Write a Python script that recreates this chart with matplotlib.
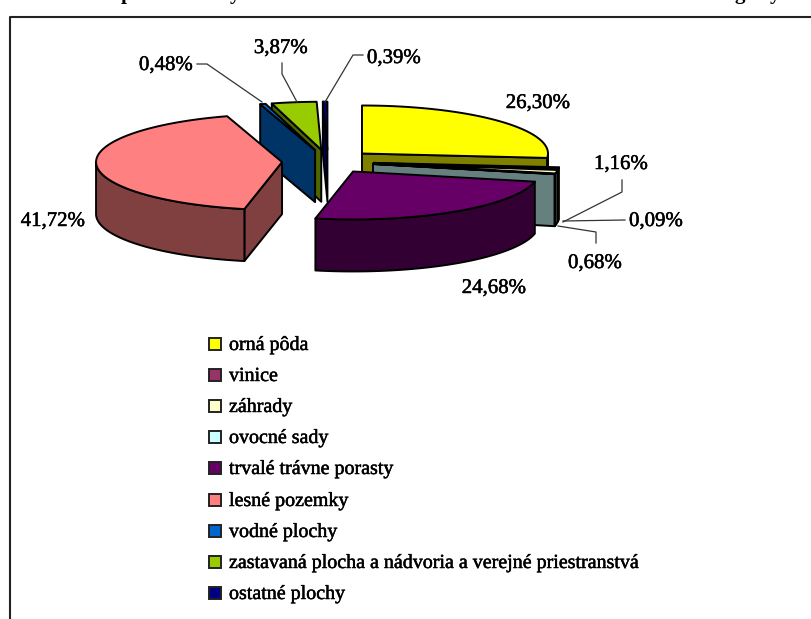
#!/usr/bin/env python3
import numpy as np
import matplotlib
matplotlib.use('Agg')
import matplotlib.pyplot as plt
import matplotlib.patheffects as pe
from matplotlib.patches import Polygon, Rectangle

categories = ['orná pôda', 'vinice', 'záhrady', 'ovocné sady', 'trvalé trávne porasty',
              'lesné pozemky', 'vodné plochy',
              'zastavaná plocha a nádvoria a verejné priestranstvá', 'ostatné plochy']
values = [26.30, 0.68, 1.16, 0.09, 24.68, 41.72, 0.48, 3.87, 0.39]
colors = ['#FFFF00', '#993366', '#FFFFCC', '#CCFFFF', '#660066',
          '#FF8080', '#0066CC', '#99CC00', '#000080']

# pie geometry, in pixels
cx, cy = 328, 161.5
rx, ry = 186, 48
depth = 52
explode = 46
edge_lw = 1.4

# the reference text is a bit heavier than plain Liberation Serif
heavy = [pe.withStroke(linewidth=0.35, foreground='black')]


def shade(color, k=0.5):
    rgb = matplotlib.colors.to_rgb(color)
    return tuple(c * k for c in rgb)


def point(ox, oy, t):
    return ox + rx * np.sin(t), oy - ry * np.cos(t)


plt.rcParams['font.family'] = ['Liberation Serif', 'DejaVu Serif']
fig = plt.figure(figsize=(8.11, 6.19), dpi=100)
ax = fig.add_axes([0, 0, 1, 1])
ax.set_xlim(0, 811)
ax.set_ylim(619, 0)
ax.axis('off')

# chart frame, cut by the page on the right and at the bottom
ax.plot([10, 10, 811], [619, 17, 17], color='#222222', lw=1.5)

angles = np.cumsum([0] + values) / sum(values) * 2 * np.pi
slices = []
for i in range(len(values)):
    t0, t1 = angles[i], angles[i + 1]
    mid = (t0 + t1) / 2
    ox = cx + explode * np.sin(mid)
    oy = cy - explode * ry / rx * np.cos(mid)
    slices.append((np.cos(mid), i, t0, t1, ox, oy))

# back to front
for _, i, t0, t1, ox, oy in sorted(slices, key=lambda s: -s[0]):
    top = colors[i]
    side = shade(top)
    ts = np.linspace(t0, t1, 80)
    ex, ey = point(ox, oy, ts)
    # straight cut faces
    for t, visible in ((t0, np.sin(t0) < 0), (t1, np.sin(t1) > 0)):
        if visible:
            px, py = point(ox, oy, t)
            ax.add_patch(Polygon([(ox, oy), (px, py), (px, py + depth), (ox, oy + depth)],
                                 fc=side, ec='black', lw=edge_lw, joinstyle='round'))
    # outer rim, only the part turned to the viewer
    lo, hi = max(t0, np.pi / 2), min(t1, 1.5 * np.pi)
    if hi > lo:
        rt = np.linspace(lo, hi, 80)
        rxs, rys = point(ox, oy, rt)
        pts = list(zip(rxs, rys)) + list(zip(rxs[::-1], rys[::-1] + depth))
        ax.add_patch(Polygon(pts, fc=side, ec='black', lw=edge_lw, joinstyle='round'))
    ax.add_patch(Polygon([(ox, oy)] + list(zip(ex, ey)), fc=top, ec='black', lw=edge_lw,
                         joinstyle='round'))

# value labels
label_pos = [(538, 108), (595, 268), (621, 169), (656, 226), (494, 293),
             (53, 226), (166, 70), (281, 53), (394, 63)]
for v, (x, y) in zip(values, label_pos):
    ax.text(x, y, f'{v:.2f}%'.replace('.', ','), fontsize=15, ha='center', va='baseline',
            color='black', path_effects=heavy)

# leader lines
leaders = [
    ([197, 207, 262], [64, 64, 102]),
    ([282, 282, 297], [63, 74, 102]),
    ([363, 353, 325], [55, 55, 102]),
    ([622, 622, 563], [180, 192, 222]),
    ([625, 563], [220, 221]),
    ([596, 596, 558], [243, 232, 226]),
]
for xs, ys in leaders:
    ax.plot(xs, ys, color='#333333', lw=0.9)

# legend
legend_y = [344, 375, 406, 437, 468, 500, 531, 562, 593]
for name, color, y in zip(categories, colors, legend_y):
    ax.add_patch(Rectangle((209, y - 6), 12, 12, fc=color, ec='#222222', lw=1.4))
    ax.text(229, y + 6, name, fontsize=14.4, va='baseline', ha='left', color='black',
            path_effects=heavy)

# bottom of the cut-off heading above the frame
for x, ch in zip([127, 235, 740, 775], 'pygy'):
    ax.text(x, -1, ch, fontsize=15, fontweight='bold', ha='center', va='baseline', color='black')

fig.savefig('out.png', dpi=100)
